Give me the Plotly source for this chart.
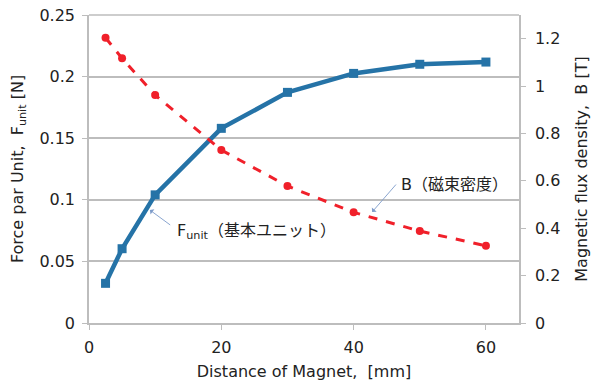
import plotly.graph_objects as go

distance_mm = [2.5, 5, 10, 20, 30, 40, 50, 60]
force_unit_N = [0.0322, 0.0603, 0.104, 0.158, 0.1872, 0.2026, 0.2100, 0.2118]
flux_density_T = [1.204, 1.117, 0.962, 0.730, 0.578, 0.467, 0.388, 0.326]

left_ticks = [0, 0.05, 0.1, 0.15, 0.2, 0.25]
left_ticklabels = ["0", "0.05", "0.1", "0.15", "0.2", "0.25"]
right_ticks = [0, 0.2, 0.4, 0.6, 0.8, 1.0, 1.2]
right_ticklabels = ["0", "0.2", "0.4", "0.6", "0.8", "1", "1.2"]
x_ticks = [0, 20, 40, 60]

FONT = "DejaVu Sans, Noto Sans CJK JP"
TXT = "#222222"
GRID = "#bdbdbd"
FS = 16

fig = go.Figure()
fig.add_trace(go.Scatter(
    x=distance_mm, y=flux_density_T, yaxis="y2", mode="lines+markers",
    line=dict(color="#f0202a", width=3, dash="dash"),
    marker=dict(symbol="circle", size=8, color="#f0202a"),
    showlegend=False))
fig.add_trace(go.Scatter(
    x=distance_mm, y=force_unit_N, mode="lines+markers",
    line=dict(color="#2573a7", width=4.5),
    marker=dict(symbol="square", size=9, color="#2573a7"),
    showlegend=False))

axis_font = dict(family=FONT, size=FS, color=TXT)
fig.update_layout(
    width=597, height=385,
    margin=dict(l=89, r=78, t=15, b=62),
    paper_bgcolor="white", plot_bgcolor="white",
    font=dict(family=FONT, size=FS, color=TXT),
    xaxis=dict(range=[0, 65], tickvals=x_ticks, showgrid=False, automargin=False,
               showline=True, linecolor=GRID, linewidth=1.5,
               ticks="outside", tickcolor=GRID, ticklen=5,
               ticklabelstandoff=4,
               tickfont=axis_font, zeroline=False,
               title=dict(text="Distance of Magnet,  [mm]", font=axis_font, standoff=10)),
    yaxis=dict(range=[0, 0.25], tickvals=left_ticks, ticktext=left_ticklabels,
               showgrid=True, gridcolor=GRID, gridwidth=1.5, automargin=False,
               showline=True, linecolor=GRID, linewidth=1.5,
               ticks="outside", tickcolor=GRID, ticklen=5,
               ticklabelstandoff=4,
               tickfont=axis_font, zeroline=False,
               title=dict(text="Force par Unit,  F<sub>unit</sub> [N]", font=axis_font, standoff=12)),
    yaxis2=dict(range=[0, 1.3], tickvals=right_ticks, ticktext=right_ticklabels,
                overlaying="y", side="right", showgrid=False, automargin=False,
                showline=True, linecolor=GRID, linewidth=1.5,
                ticks="outside", tickcolor=GRID, ticklen=5,
                ticklabelstandoff=6,
                tickfont=axis_font, zeroline=False,
                title=dict(text="Magnetic flux density,  B [T]", font=axis_font, standoff=16)),
    shapes=[dict(type="line", xref="paper", yref="paper", x0=0, x1=1, y0=1, y1=1,
                 line=dict(color=GRID, width=1.5))],
)

arrow_col = "#7d9bc9"
# arrows
fig.add_annotation(x=9.2, y=0.0917, ax=12.5, ay=0.0787, xref="x", yref="y", axref="x", ayref="y",
                   text="", showarrow=True, arrowhead=1, arrowsize=1.2, arrowwidth=0.9, arrowcolor=arrow_col)
fig.add_annotation(x=42.8, y=0.0901, ax=46.6, ay=0.1136, xref="x", yref="y", axref="x", ayref="y",
                   text="", showarrow=True, arrowhead=1, arrowsize=1.2, arrowwidth=0.9, arrowcolor=arrow_col)
# labels
fig.add_annotation(x=13.0, y=0.0739, xref="x", yref="y", xanchor="left", yanchor="middle",
                   text="F<sub>unit</sub>（基本ユニット）", showarrow=False, font=axis_font)
fig.add_annotation(x=46.9, y=0.1128, xref="x", yref="y", xanchor="left", yanchor="middle",
                   text="B（磁束密度）", showarrow=False, font=axis_font)

fig.write_html("out.html")
